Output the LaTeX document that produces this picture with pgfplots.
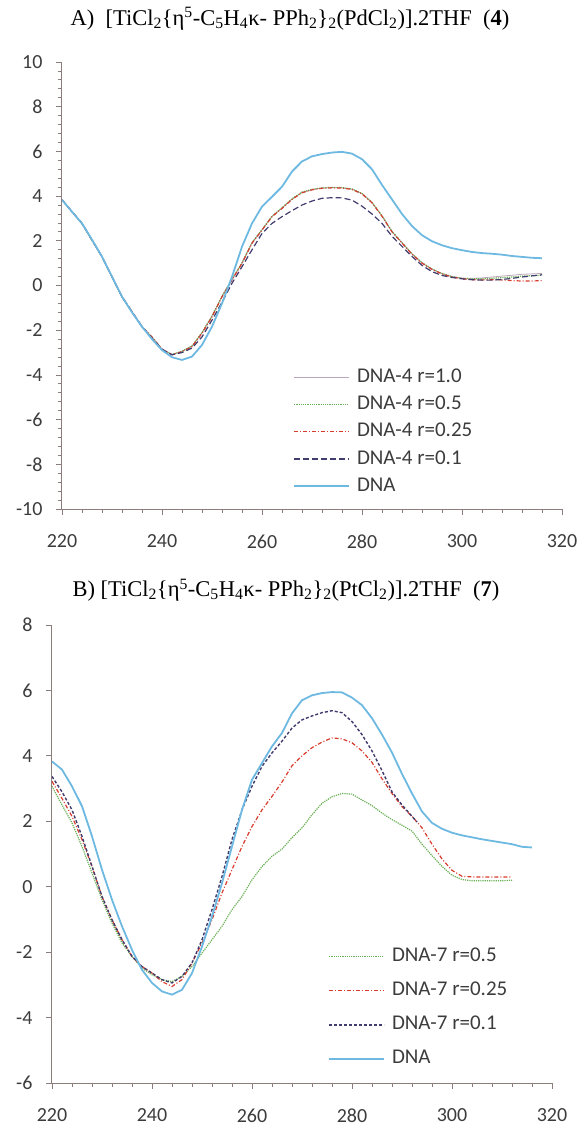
\documentclass[border=0pt]{standalone}
\usepackage{fontspec}
\setmainfont{Liberation Serif}
\newfontfamily\calibri{Carlito}
\usepackage{pgfplots}
\pgfplotsset{compat=1.18}
\definecolor{axisgray}{RGB}{140,125,125}
\definecolor{labgray}{RGB}{60,60,60}
\definecolor{dnablue}{RGB}{110,185,225}
\definecolor{navy}{RGB}{65,60,110}
\definecolor{redd}{RGB}{215,60,45}
\definecolor{greend}{RGB}{105,175,85}
\definecolor{mauve}{RGB}{190,165,190}
\newcommand{\sub}[1]{\textsubscript{#1}}

% panel A
\pgfplotstableread{
x y
220 3.83
222 3.30
224 2.78
226 2.05
228 1.29
230 0.40
232 -0.50
234 -1.20
236 -1.84
238 -2.40
240 -2.89
242 -3.21
244 -3.33
246 -3.18
248 -2.66
250 -1.84
252 -0.80
254 0.39
256 1.74
258 2.78
260 3.53
262 3.97
264 4.42
266 5.10
268 5.55
270 5.78
272 5.88
274 5.95
276 5.98
278 5.90
280 5.65
282 5.20
284 4.50
286 3.85
288 3.20
290 2.66
292 2.25
294 1.98
296 1.80
298 1.67
300 1.58
302 1.50
304 1.45
306 1.42
308 1.38
310 1.32
312 1.28
314 1.24
316 1.22
}\dnaA
\pgfplotstableread{
x y
220 3.83
224 2.78
228 1.29
232 -0.50
236 -1.84
238 -2.30
240 -2.85
242 -3.10
244 -2.96
246 -2.74
248 -2.14
250 -1.40
252 -0.50
254 0.25
256 0.99
258 1.89
260 2.48
262 3.08
264 3.45
266 3.85
268 4.15
270 4.28
272 4.35
274 4.37
276 4.36
278 4.30
280 4.10
282 3.70
284 3.10
286 2.40
288 1.90
290 1.40
292 1.00
294 0.72
296 0.52
298 0.38
300 0.30
302 0.26
304 0.25
306 0.26
308 0.25
310 0.22
312 0.20
314 0.20
316 0.22
}\rA
\pgfplotstableread{
x y
220 3.83
224 2.76
228 1.28
232 -0.52
236 -1.86
238 -2.32
240 -2.86
242 -3.08
244 -2.94
246 -2.70
248 -2.10
250 -1.36
252 -0.48
254 0.28
256 1.02
258 1.92
260 2.50
262 3.10
264 3.48
266 3.88
268 4.18
270 4.30
272 4.37
274 4.39
276 4.38
278 4.32
280 4.12
282 3.72
284 3.12
286 2.42
288 1.92
290 1.42
292 1.02
294 0.74
296 0.54
298 0.40
300 0.32
302 0.30
304 0.30
306 0.32
308 0.35
310 0.38
312 0.42
314 0.44
316 0.46
}\gA
\pgfplotstableread{
x y
220 3.83
224 2.77
228 1.28
232 -0.51
236 -1.85
238 -2.31
240 -2.86
242 -3.09
244 -2.95
246 -2.72
248 -2.12
250 -1.38
252 -0.49
254 0.26
256 1.00
258 1.90
260 2.49
262 3.09
264 3.46
266 3.86
268 4.16
270 4.29
272 4.36
274 4.38
276 4.37
278 4.31
280 4.11
282 3.71
284 3.11
286 2.41
288 1.91
290 1.41
292 1.01
294 0.73
296 0.53
298 0.40
300 0.33
302 0.32
304 0.34
306 0.38
308 0.42
310 0.46
312 0.50
314 0.52
316 0.54
}\mA
\pgfplotstableread{
x y
220 3.83
224 2.78
228 1.29
232 -0.50
236 -1.84
238 -2.35
240 -2.85
242 -3.10
244 -3.00
246 -2.80
248 -2.30
250 -1.55
252 -0.75
254 0.10
256 0.84
258 1.60
260 2.33
262 2.78
264 3.08
266 3.35
268 3.60
270 3.78
272 3.90
274 3.93
276 3.92
278 3.82
280 3.55
282 3.20
284 2.78
286 2.20
288 1.75
290 1.30
292 0.90
294 0.62
296 0.45
298 0.36
300 0.30
302 0.26
304 0.24
306 0.24
308 0.27
310 0.32
312 0.38
314 0.43
316 0.48
}\nA

% panel B
\pgfplotstableread{
x y
220 3.83
222 3.58
224 3.07
226 2.46
228 1.54
230 0.52
232 -0.40
234 -1.21
236 -1.93
238 -2.54
240 -2.94
242 -3.20
244 -3.30
246 -3.15
248 -2.64
250 -1.83
252 -0.91
254 0.11
256 1.23
258 2.35
260 3.27
262 3.78
264 4.29
266 4.70
268 5.30
270 5.70
272 5.85
274 5.92
276 5.95
278 5.94
280 5.78
282 5.55
284 5.15
286 4.65
288 4.10
290 3.45
292 2.85
294 2.30
296 1.95
298 1.77
300 1.65
302 1.57
304 1.51
306 1.45
308 1.40
310 1.35
312 1.30
314 1.22
316 1.20
}\dnaB
\pgfplotstableread{
x y
220 3.37
222 2.90
224 2.35
226 1.54
228 0.62
230 -0.30
232 -1.01
234 -1.62
236 -2.13
238 -2.44
240 -2.64
242 -2.84
244 -2.94
246 -2.74
248 -2.33
250 -1.62
252 -0.70
254 0.31
256 1.44
258 2.35
260 3.07
262 3.68
264 4.09
266 4.45
268 4.85
270 5.10
272 5.22
274 5.32
276 5.38
278 5.32
280 5.05
282 4.65
284 4.15
286 3.55
288 2.90
290 2.50
292 2.15
293 1.98
}\nB
\pgfplotstableread{
x y
220 3.22
222 2.70
224 2.15
226 1.44
228 0.62
230 -0.30
232 -1.01
234 -1.62
236 -2.13
238 -2.44
240 -2.64
242 -2.90
244 -3.05
246 -2.84
248 -2.33
250 -1.72
252 -1.01
254 -0.19
256 0.52
258 1.23
260 1.84
262 2.35
264 2.76
266 3.20
268 3.70
270 4.00
272 4.25
274 4.42
276 4.55
278 4.52
280 4.40
282 4.15
284 3.80
286 3.30
288 2.85
290 2.45
292 2.15
294 1.80
296 1.30
298 0.85
300 0.50
302 0.32
304 0.30
306 0.30
308 0.30
310 0.30
312 0.30
}\rB
\pgfplotstableread{
x y
220 3.07
222 2.50
224 1.95
226 1.23
228 0.42
230 -0.40
232 -1.11
234 -1.72
236 -2.13
238 -2.49
240 -2.69
242 -2.84
244 -2.90
246 -2.74
248 -2.44
250 -2.03
252 -1.62
254 -1.21
256 -0.70
258 -0.30
260 0.21
262 0.62
264 0.93
266 1.15
268 1.50
270 1.80
272 2.20
274 2.55
276 2.75
278 2.85
280 2.83
282 2.65
284 2.48
286 2.25
288 2.05
290 1.88
292 1.70
294 1.30
296 0.95
298 0.62
300 0.35
302 0.22
304 0.18
306 0.18
308 0.18
310 0.18
312 0.20
}\gB

\pgfplotsset{excel/.style={
  scale only axis, width=500pt,
  xmin=220, xmax=320, xtick={220,240,...,320}, minor x tick num=4,
  axis x line=bottom, axis y line=left,
  axis line style={-, draw=axisgray, line width=1pt},
  tick style={draw=axisgray, line width=0.8pt},
  tick align=outside, major tick length=6pt, minor tick length=4pt,
  ticklabel style={font=\calibri\fontsize{20}{20}\selectfont, text=labgray},
  xticklabel style={yshift=-16pt},
  yticklabel style={xshift=-10pt},
  /pgf/number format/assume math mode=true,
  legend cell align=left,
  legend style={draw=none, fill=none, anchor=north west,
    font=\calibri\fontsize{21}{24}\selectfont, text=labgray,
    nodes={inner sep=0pt, text height=14pt, text depth=4pt},
    column sep=7pt},
  legend image code/.code={\draw[#1] (0pt,0pt) -- (55pt,0pt);},
}}

\begin{document}
\begin{tikzpicture}
\path[use as bounding box] (0,0) rectangle (578pt,-1126pt);

\node at (290pt,-19pt) {\fontsize{22.5}{26}\selectfont A)\ \ [TiCl\sub{2}\{η\textsuperscript{5}-C\sub{5}H\sub{4}κ- PPh\sub{2}\}\sub{2}(PdCl\sub{2})].2THF\ \ (\textbf{4})};
\node at (286pt,-590pt) {\fontsize{22.5}{26}\selectfont B)\ [TiCl\sub{2}\{η\textsuperscript{5}-C\sub{5}H\sub{4}κ- PPh\sub{2}\}\sub{2}(PtCl\sub{2})].2THF\ \ (\textbf{7})};

\begin{axis}[excel, height=447pt, at={(62pt,-509pt)}, anchor=south west,
  ymin=-10, ymax=10, ytick={-10,-8,...,10}, minor y tick num=4,
  legend style={at={(0.456,0.320)}, row sep=9.3pt}]
\addplot[mauve, line width=0.8pt] table {\mA};
\addplot[greend, line width=1.2pt, densely dotted] table {\gA};
\addplot[redd, line width=1.2pt, dash pattern=on 4pt off 2pt on 1pt off 2pt] table {\rA};
\addplot[navy, line width=1.2pt, dash pattern=on 6pt off 3pt] table {\nA};
\addplot[dnablue, line width=1.8pt] table {\dnaA};
\legend{DNA-4 r=1.0, DNA-4 r=0.5, DNA-4 r=0.25, DNA-4 r=0.1, DNA}
\end{axis}

\begin{axis}[excel, height=458pt, at={(52pt,-1083pt)}, anchor=south west,
  ymin=-6, ymax=8, ytick={-6,-4,...,8},
  legend style={at={(0.546,0.300)}, row sep=16pt}]
\addplot[greend, line width=1.2pt, densely dotted] table {\gB};
\addplot[redd, line width=1.2pt, dash pattern=on 4pt off 2pt on 1pt off 2pt] table {\rB};
\addplot[navy, line width=1.4pt, dash pattern=on 3pt off 2pt] table {\nB};
\addplot[dnablue, line width=1.8pt] table {\dnaB};
\legend{DNA-7 r=0.5, DNA-7 r=0.25, DNA-7 r=0.1, DNA}
\end{axis}
\end{tikzpicture}
\end{document}
